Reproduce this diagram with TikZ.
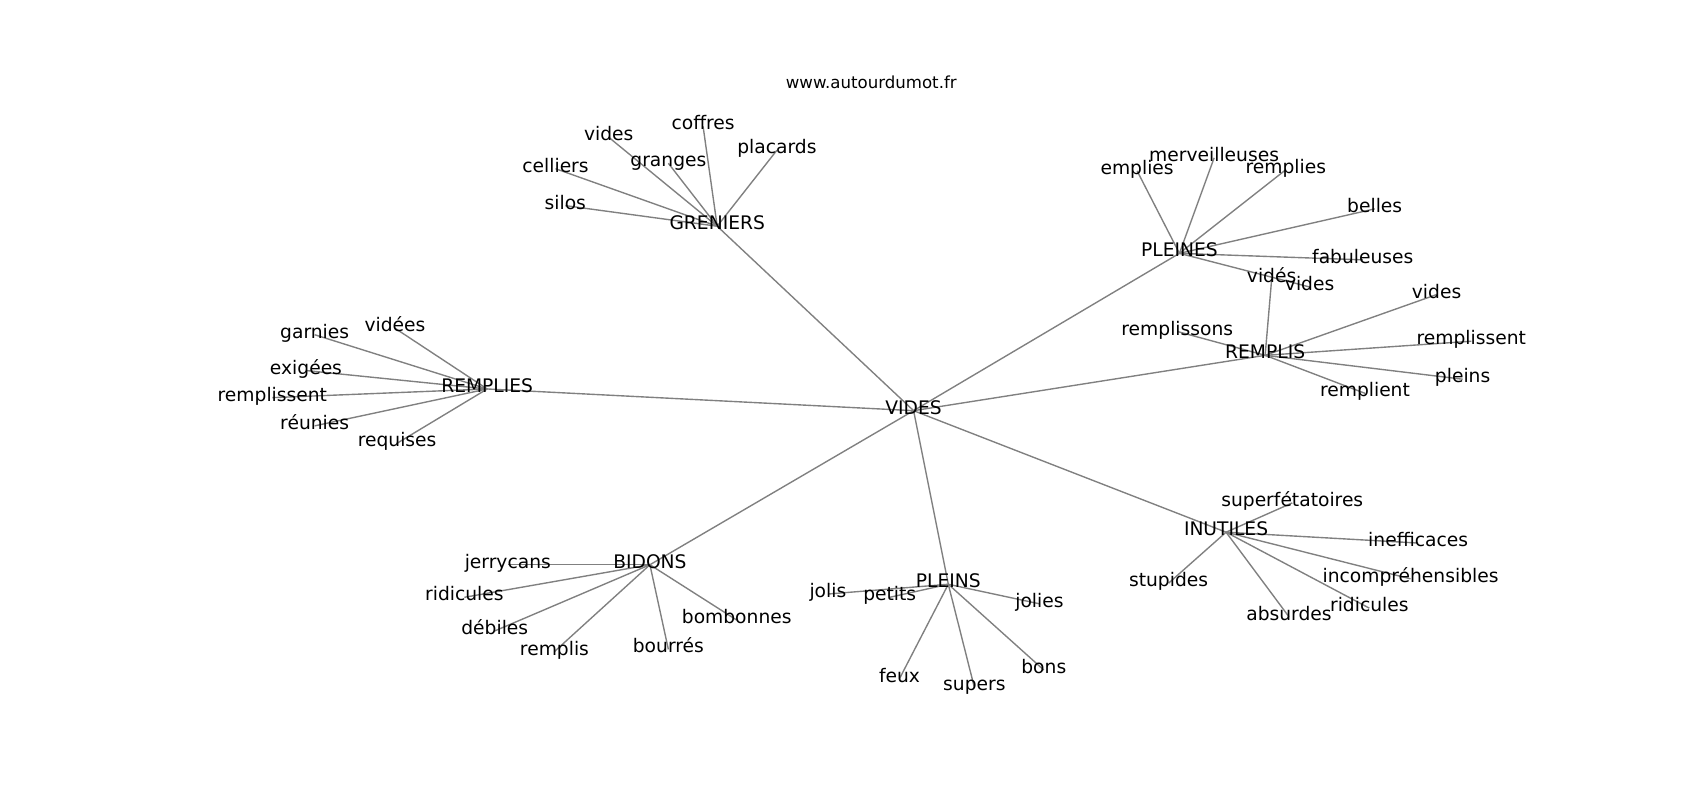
\documentclass[tikz,border=0pt]{standalone}
\usepackage{fontspec}
\setmainfont{DejaVu Sans}
\usetikzlibrary{backgrounds}
\tikzset{
	word/.style={inner sep=0pt, text height=0.76em, text depth=0.24em, font=\fontsize{13.5}{16}\selectfont},
	site/.style={inner sep=0pt, text height=0.76em, text depth=0.24em, font=\fontsize{12}{14}\selectfont},
	link/.style={draw=gray, line width=1pt}
}

\begin{document}
\begin{tikzpicture}[x=0.01085in, y=-0.01085in]
	\useasboundingbox (0,-2.5) rectangle (1566.8,734.8);
	\node[site] (title) at (803,76) {www.autourdumot.fr};
	\node[word] (vides) at (842,376) {VIDES};
	\node[word] (greniers) at (661,206) {GRENIERS};
	\node[word] (silos) at (521,187) {silos};
	\node[word] (celliers) at (512,153) {celliers};
	\node[word] (videsG) at (561,124) {vides};
	\node[word] (granges) at (616,148) {granges};
	\node[word] (coffres) at (648,114) {coffres};
	\node[word] (placards) at (716,136) {placards};
	\node[word] (pleines) at (1087,231) {PLEINES};
	\node[word] (emplies) at (1048,155) {emplies};
	\node[word] (merveilleuses) at (1119,143) {merveilleuses};
	\node[word] (rempliesP) at (1185,154) {remplies};
	\node[word] (belles) at (1267,190) {belles};
	\node[word] (fabuleuses) at (1256,237) {fabuleuses};
	\node[word] (videsP) at (1207,262) {vides};
	\node[word] (remplis) at (1166,325) {REMPLIS};
	\node[word] (videsE) at (1172,255) {vidés};
	\node[word] (remplissons) at (1085,303) {remplissons};
	\node[word] (videsR) at (1324,269) {vides};
	\node[word] (remplissentR) at (1356,312) {remplissent};
	\node[word] (pleinsR) at (1348,347) {pleins};
	\node[word] (remplient) at (1258,360) {remplient};
	\node[word] (remplies) at (449,356) {REMPLIES};
	\node[word] (garnies) at (290,306) {garnies};
	\node[word] (videes) at (364,300) {vidées};
	\node[word] (exigees) at (282,339) {exigées};
	\node[word] (remplissentL) at (251,364) {remplissent};
	\node[word] (reunies) at (290,390) {réunies};
	\node[word] (requises) at (366,406) {requises};
	\node[word] (bidons) at (599,518) {BIDONS};
	\node[word] (jerrycans) at (468,518) {jerrycans};
	\node[word] (ridiculesB) at (428,548) {ridicules};
	\node[word] (debiles) at (456,579) {débiles};
	\node[word] (remplisB) at (511,598) {remplis};
	\node[word] (bourres) at (616,596) {bourrés};
	\node[word] (bombonnes) at (679,569) {bombonnes};
	\node[word] (pleins) at (874,536) {PLEINS};
	\node[word] (jolis) at (763,545) {jolis};
	\node[word] (petits) at (820,548) {petits};
	\node[word] (jolies) at (958,554) {jolies};
	\node[word] (feux) at (829,623) {feux};
	\node[word] (supers) at (898,631) {supers};
	\node[word] (bons) at (962,615) {bons};
	\node[word] (inutiles) at (1130,488) {INUTILES};
	\node[word] (superfetatoires) at (1191,461) {superfétatoires};
	\node[word] (inefficaces) at (1307,498) {inefficaces};
	\node[word] (incomprehensibles) at (1300,531) {incompréhensibles};
	\node[word] (ridiculesI) at (1262,558) {ridicules};
	\node[word] (absurdes) at (1188,566) {absurdes};
	\node[word] (stupides) at (1077,535) {stupides};
	\begin{scope}[on background layer]
		\foreach \b in {greniers,pleines,remplis,remplies,bidons,pleins,inutiles}
			\draw[link] (vides.center) -- (\b.center);
		\foreach \b in {silos,celliers,videsG,granges,coffres,placards}
			\draw[link] (greniers.center) -- (\b.center);
		\foreach \b in {emplies,merveilleuses,rempliesP,belles,fabuleuses,videsP}
			\draw[link] (pleines.center) -- (\b.center);
		\foreach \b in {videsE,remplissons,videsR,remplissentR,pleinsR,remplient}
			\draw[link] (remplis.center) -- (\b.center);
		\foreach \b in {garnies,videes,exigees,remplissentL,reunies,requises}
			\draw[link] (remplies.center) -- (\b.center);
		\foreach \b in {jerrycans,ridiculesB,debiles,remplisB,bourres,bombonnes}
			\draw[link] (bidons.center) -- (\b.center);
		\foreach \b in {jolis,petits,jolies,feux,supers,bons}
			\draw[link] (pleins.center) -- (\b.center);
		\foreach \b in {superfetatoires,inefficaces,incomprehensibles,ridiculesI,absurdes,stupides}
			\draw[link] (inutiles.center) -- (\b.center);
	\end{scope}
\end{tikzpicture}
\end{document}
